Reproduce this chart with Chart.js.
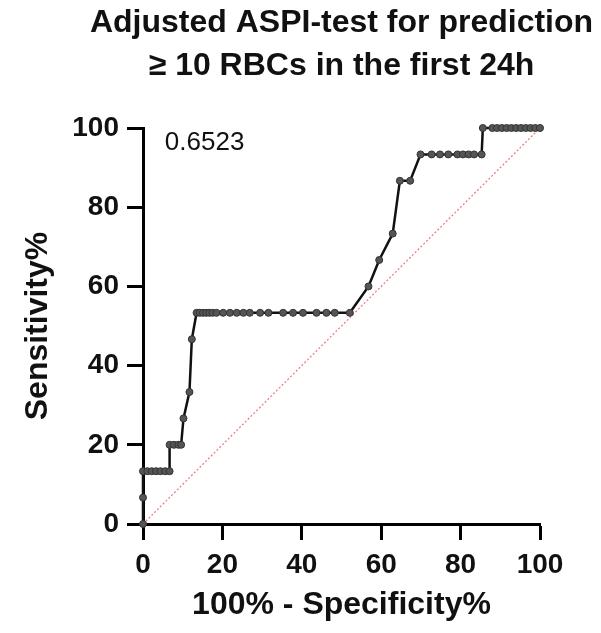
<!DOCTYPE html>
<html>
<head>
<meta charset="utf-8">
<script src="https://cdn.jsdelivr.net/npm/chart.js@4/dist/chart.umd.min.js"></script>
<style>
  html, body { margin: 0; padding: 0; background: #fff; }
  #wrap { width: 601px; height: 633px; position: relative; }
</style>
</head>
<body>
<div id="wrap"><canvas id="roc"></canvas></div>
<script>
// ROC curve: 100% - specificity (x) vs sensitivity (y)
var fpr = [0, 0, 0, 1.1, 2.2, 3.3, 4.4, 5.6, 6.7, 6.7, 7.8, 8.9, 9.6, 10.2, 11.7, 12.3, 13.5,
    14.3, 15.1, 15.9, 16.7, 17.5, 18.5, 20.2, 21.9, 23.6, 25.3, 26.9, 29.5, 31.6, 35.3, 37.8,
    40.3, 43.7, 46.2, 48.3, 52.1, 56.8, 59.5, 62.9, 64.7, 67.3, 69.9, 72.7, 74.8, 76.9, 79.2,
    80.6, 82.0, 83.4, 85.3, 85.6, 88.0, 89.2, 90.4, 91.6, 92.8, 94.0, 95.2, 96.4, 97.6, 98.8, 100];
var tpr = [0, 6.67, 13.33, 13.33, 13.33, 13.33, 13.33, 13.33, 13.33, 20, 20, 20, 20, 26.67, 33.33, 46.67, 53.33,
    53.33, 53.33, 53.33, 53.33, 53.33, 53.33, 53.33, 53.33, 53.33, 53.33, 53.33, 53.33, 53.33, 53.33, 53.33,
    53.33, 53.33, 53.33, 53.33, 53.33, 60, 66.67, 73.33, 86.67, 86.67, 93.33, 93.33, 93.33, 93.33, 93.33,
    93.33, 93.33, 93.33, 93.33, 100, 100, 100, 100, 100, 100, 100, 100, 100, 100, 100, 100];
var refX = [0, 100];
var refY = [0, 100];
var xTicks = [0, 20, 40, 60, 80, 100];
var yTicks = [0, 20, 40, 60, 80, 100];
var titleLines = ['Adjusted ASPI-test for prediction', '\u2265 10 RBCs in the first 24h'];
var aucLabel = '0.6523';
var aucPos = { x: 5.5, y: 94.4 };

var FONT = '"Liberation Sans", Arial, sans-serif';

function pts(xs, ys) {
    return xs.map(function (x, i) { return { x: x, y: ys[i] }; });
}

var textPlugin = {
    id: 'texts',
    afterDraw: function (chart) {
        var ctx = chart.ctx, a = chart.chartArea;
        var cx = (a.left + a.right) / 2;
        ctx.save();
        ctx.fillStyle = '#111';
        ctx.textAlign = 'center';
        ctx.textBaseline = 'alphabetic';
        ctx.font = 'bold 32px ' + FONT;
        ctx.fillText(titleLines[0], cx, a.top - 96);
        ctx.fillText(titleLines[1], cx, a.top - 53);
        ctx.font = '26px ' + FONT;
        ctx.textAlign = 'left';
        ctx.fillText(aucLabel, chart.scales.x.getPixelForValue(aucPos.x), chart.scales.y.getPixelForValue(aucPos.y));
        ctx.restore();
    }
};

function axis(min, max, ticks, title, pad) {
    return {
        type: 'linear', min: min, max: max,
        afterBuildTicks: function (s) { s.ticks = ticks.map(function (v) { return { value: v }; }); },
        ticks: { color: '#111', font: { family: FONT, size: 28, weight: 'bold' }, padding: 8 },
        grid: { drawOnChartArea: false, drawTicks: true, tickLength: 16, tickColor: '#000', tickWidth: 3 },
        border: { display: true, color: '#000', width: 3 },
        title: { display: true, text: title, color: '#111', padding: pad,
            font: { family: FONT, size: 32, weight: 'bold', lineHeight: 1.2 } }
    };
}

var xAxis = axis(0, 100, xTicks, '100% - Specificity%', { top: 0, bottom: 9 });
xAxis.afterFit = function (s) { s.height = 109; };
var yAxis = axis(0, 100, yTicks, 'Sensitivity%', { top: 19, bottom: 0 });
yAxis.afterFit = function (s) { s.width = 143; };

new Chart(document.getElementById('roc'), {
    type: 'scatter',
    data: {
        datasets: [
            {
                data: pts(refX, refY), showLine: true, borderColor: '#e8837c', borderWidth: 1.3,
                borderDash: [2, 2], pointRadius: 0, clip: false, order: 2
            },
            {
                data: pts(fpr, tpr), showLine: true, borderColor: '#111', borderWidth: 2.5,
                pointRadius: 3.5, pointBackgroundColor: '#555', pointBorderColor: '#333',
                pointBorderWidth: 1, clip: false, order: 1
            }
        ]
    },
    options: {
        responsive: true,
        maintainAspectRatio: false,
        animation: false,
        layout: { padding: { top: 128, right: 61, left: 0, bottom: 0 } },
        plugins: { legend: { display: false }, tooltip: { enabled: false } },
        scales: { x: xAxis, y: yAxis }
    },
    plugins: [textPlugin]
});
</script>
</body>
</html>
